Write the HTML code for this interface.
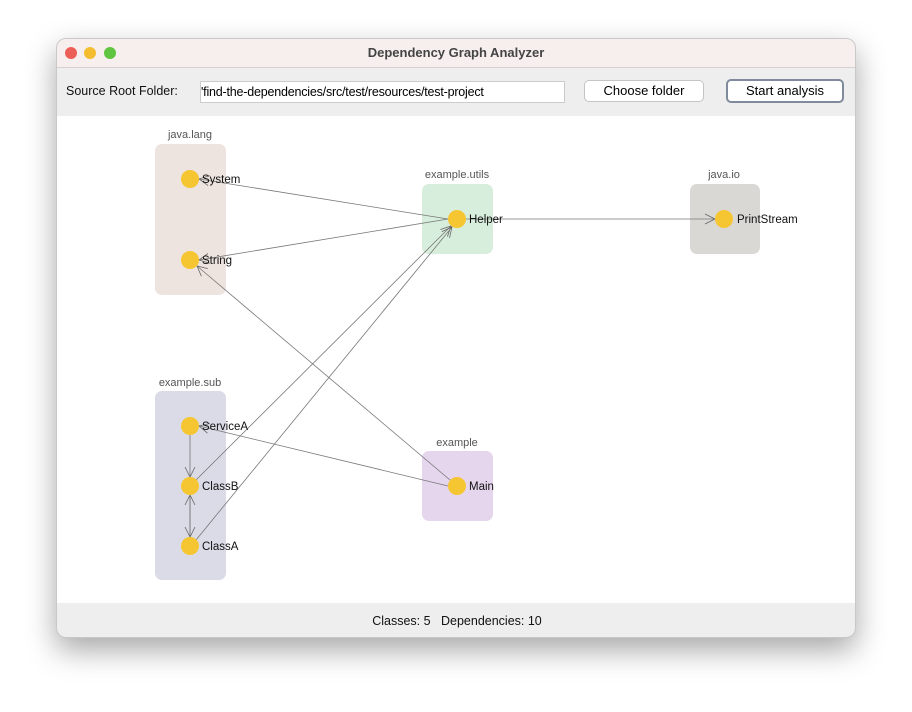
<!DOCTYPE html>
<html><head><style>
body{margin:0;width:912px;height:712px;background:#fff;font-family:"Liberation Sans",sans-serif;overflow:hidden}
.win{position:absolute;left:56px;top:38px;width:800px;height:600px;border-radius:10px;overflow:hidden;background:#eeeeee;box-shadow:0 12px 30px rgba(0,0,0,.35);border:1px solid #c8c8c8;box-sizing:border-box}
.title{position:absolute;left:0;top:0;width:100%;height:28px;background:#f7efee;border-bottom:1px solid #d6d0d0;text-align:center;line-height:28px;font-size:13px;font-weight:bold;color:#444}
.dot{position:absolute;top:8px;width:12px;height:12px;border-radius:50%}
.tb{position:absolute;font-size:13px;color:#111}
.btn{position:absolute;background:#fff;border:1px solid #c4c4c4;border-radius:5px;text-align:center;font-size:13px;line-height:20px;height:20px}
</style></head><body>
<div class="win">
<div class="title">Dependency Graph Analyzer</div>
<div class="dot" style="left:8px;background:#ec5f57"></div>
<div class="dot" style="left:27px;background:#f4bd2f"></div>
<div class="dot" style="left:47px;background:#5fc43f"></div>
<div class="tb" style="left:9px;top:45px;font-size:12.5px">Source Root Folder:</div>
<div style="position:absolute;left:143px;top:42px;width:363px;height:20px;background:#fff;border:1px solid #ccc;font-size:12.5px;line-height:20px;overflow:hidden;white-space:nowrap;letter-spacing:-0.2px">'find-the-dependencies/src/test/resources/test-project</div>
<div class="btn" style="left:527px;top:41px;width:118px">Choose folder</div>
<div class="btn" style="left:669px;top:40px;width:114px;border:2px solid #7f8a9c">Start analysis</div>
<div style="position:absolute;left:0;top:77px;width:800px;height:487px;background:#fff"></div>
<div class="tb" style="left:0;top:575px;width:800px;text-align:center;font-size:12.5px">Classes: 5&nbsp;&nbsp; Dependencies: 10</div>
</div>
<svg width="912" height="712" style="position:absolute;left:0;top:0" font-family="Liberation Sans, sans-serif" font-size="11">
<defs><marker id="a" markerWidth="12" markerHeight="12" refX="11" refY="6" orient="auto" markerUnits="userSpaceOnUse"><path d="M1,1 L11,6 L1,11" fill="none" stroke="#666" stroke-width="0.8"/></marker></defs>
<rect x="155" y="144" width="71" height="151" rx="7" fill="#ede3df"/>
<rect x="422" y="184" width="71" height="70" rx="7" fill="#d8eedc"/>
<rect x="690" y="184" width="70" height="70" rx="7" fill="#d9d8d4"/>
<rect x="155" y="391" width="71" height="189" rx="7" fill="#dadbe7"/>
<rect x="422" y="451" width="71" height="70" rx="7" fill="#e5d5ed"/>
<g fill="#555" text-anchor="middle"><text x="190" y="138">java.lang</text><text x="457" y="178">example.utils</text><text x="724" y="178">java.io</text><text x="190" y="386">example.sub</text><text x="457" y="446">example</text></g>
<g stroke="#777" stroke-width="0.8" marker-end="url(#a)">
<line x1="448" y1="219" x2="199" y2="179"/>
<line x1="448" y1="219" x2="199" y2="260"/>
<line x1="466" y1="219" x2="715" y2="219"/>
<line x1="450" y1="480" x2="197" y2="266"/>
<line x1="448" y1="486" x2="199" y2="426"/>
<line x1="190" y1="435" x2="190" y2="477"/>
<line x1="190" y1="537" x2="190" y2="495"/>
<line x1="190" y1="495" x2="190" y2="537"/>
<line x1="196" y1="480" x2="451" y2="226"/>
<line x1="196" y1="540" x2="452" y2="227"/>
</g>
<g fill="#f5c631"><circle cx="190" cy="179" r="9"/><circle cx="190" cy="260" r="9"/><circle cx="457" cy="219" r="9"/><circle cx="724" cy="219" r="9"/><circle cx="190" cy="426" r="9"/><circle cx="190" cy="486" r="9"/><circle cx="190" cy="546" r="9"/><circle cx="457" cy="486" r="9"/></g>
<g fill="#111" font-size="11.5"><text x="202" y="183">System</text><text x="202" y="264">String</text><text x="469" y="223">Helper</text><text x="737" y="223">PrintStream</text><text x="202" y="430">ServiceA</text><text x="202" y="490">ClassB</text><text x="202" y="550">ClassA</text><text x="469" y="490">Main</text></g>
</svg>
</body></html>
